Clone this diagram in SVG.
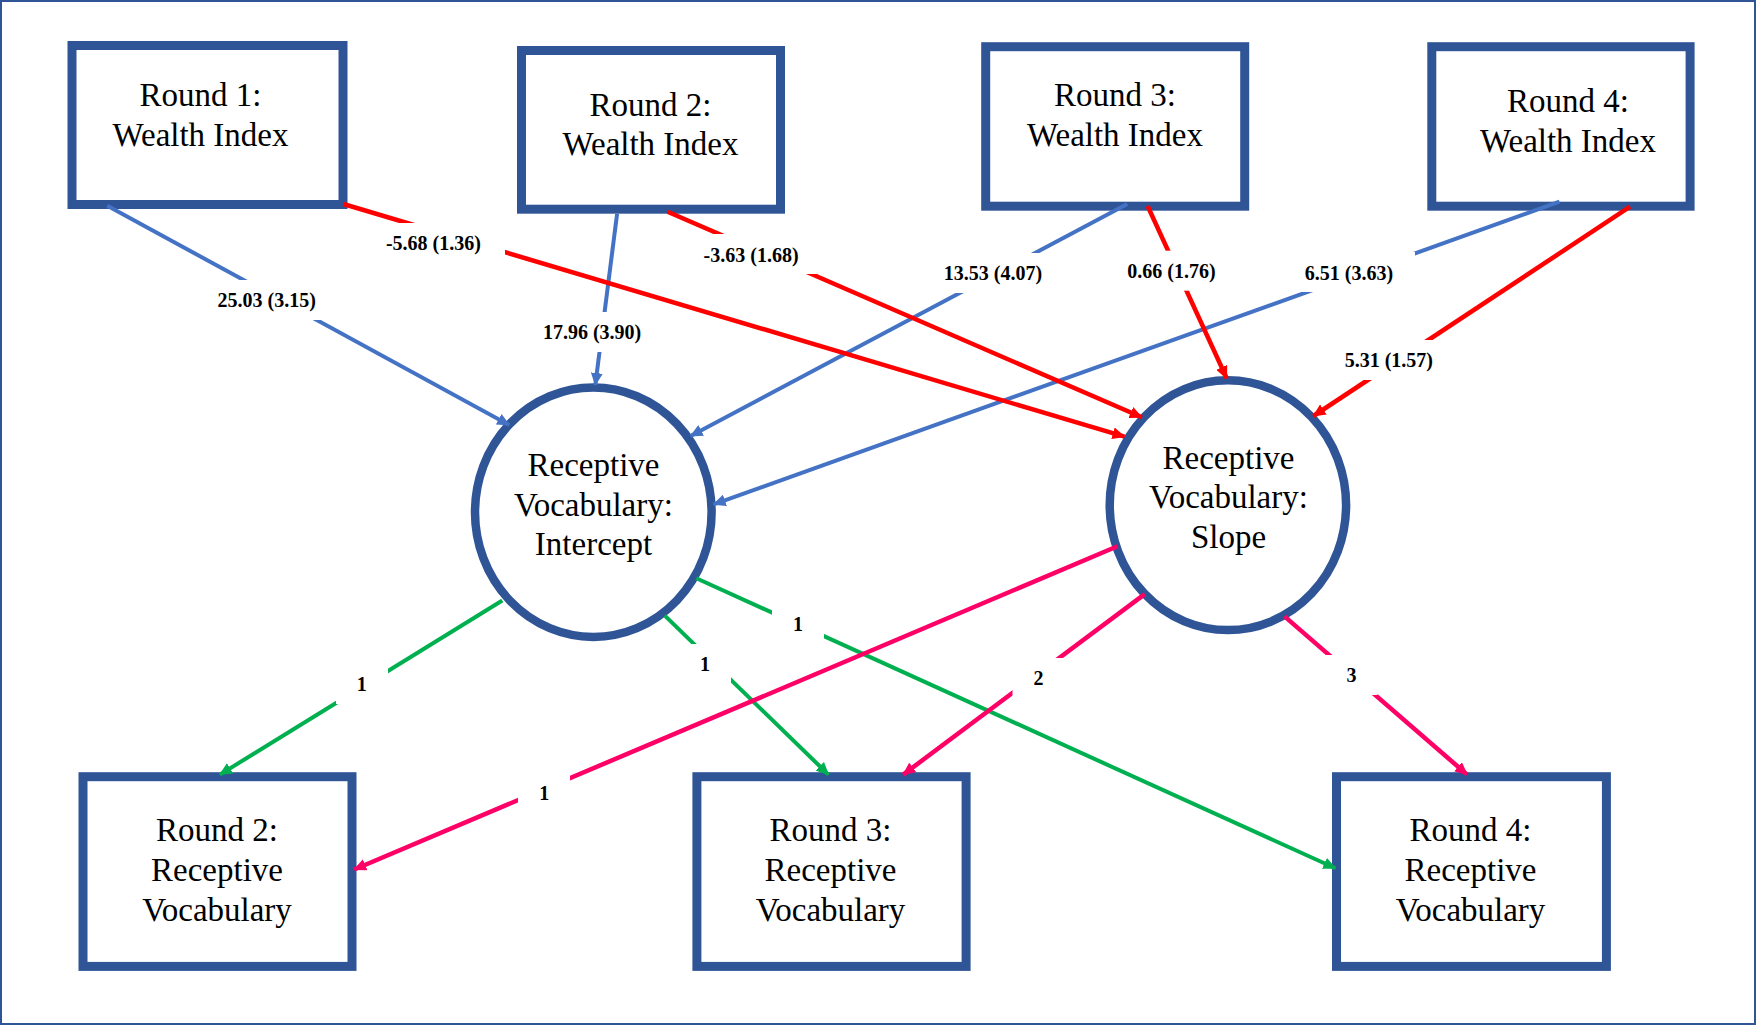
<svg xmlns="http://www.w3.org/2000/svg" width="1756" height="1025" viewBox="0 0 1756 1025">
<defs>
<style>
.box{fill:#fff;stroke:#2F5597;stroke-width:9}
.lat{fill:#fff;stroke:#2F5597;stroke-width:8.5}
.nt{font-family:"Liberation Serif","Times New Roman",serif;font-size:33px;fill:#000;text-anchor:middle}
.lb{font-family:"Liberation Serif","Times New Roman",serif;font-size:20px;font-weight:bold;fill:#000;text-anchor:middle}
.bg{fill:#fff}
.b{stroke:#4472C4;stroke-width:4;fill:none;marker-end:url(#ab)}
.r{stroke:#FF0000;stroke-width:4.5;fill:none;marker-end:url(#ar)}
.g{stroke:#00B050;stroke-width:4;fill:none;marker-end:url(#ag)}
.p{stroke:#FF0066;stroke-width:4.5;fill:none;marker-end:url(#ap)}
</style>
<marker id="ab" viewBox="0 0 13 12" refX="12" refY="6" markerWidth="13" markerHeight="12" markerUnits="userSpaceOnUse" orient="auto"><path d="M0,0 L13,6 L0,12 z" fill="#4472C4"/></marker>
<marker id="ar" viewBox="0 0 13 12" refX="12" refY="6" markerWidth="13" markerHeight="12" markerUnits="userSpaceOnUse" orient="auto"><path d="M0,0 L13,6 L0,12 z" fill="#FF0000"/></marker>
<marker id="ag" viewBox="0 0 13 12" refX="12" refY="6" markerWidth="13" markerHeight="12" markerUnits="userSpaceOnUse" orient="auto"><path d="M0,0 L13,6 L0,12 z" fill="#00B050"/></marker>
<marker id="ap" viewBox="0 0 13 12" refX="12" refY="6" markerWidth="13" markerHeight="12" markerUnits="userSpaceOnUse" orient="auto"><path d="M0,0 L13,6 L0,12 z" fill="#FF0066"/></marker>
</defs>
<rect x="0" y="0" width="1756" height="1025" fill="#fff"/>
<rect x="1" y="1" width="1754" height="1023" fill="none" stroke="#2F5597" stroke-width="2"/>

<g id="w1"><rect class="box" x="72" y="45.5" width="271" height="159"/><text class="nt" x="200.5" y="106">Round 1:</text><text class="nt" x="200.5" y="145.7">Wealth Index</text></g>
<g id="w2"><rect class="box" x="521.5" y="50.5" width="259" height="158.7"/><text class="nt" x="650.5" y="115.7">Round 2:</text><text class="nt" x="650.5" y="155.3">Wealth Index</text></g>
<g id="w3"><rect class="box" x="985.7" y="46.7" width="259" height="159.5"/><text class="nt" x="1115" y="105.7">Round 3:</text><text class="nt" x="1115" y="145.7">Wealth Index</text></g>
<g id="w4"><rect class="box" x="1431.8" y="46.7" width="258.3" height="159.5"/><text class="nt" x="1568" y="111.7">Round 4:</text><text class="nt" x="1568" y="151.7">Wealth Index</text></g>

<g id="intercept"><ellipse class="lat" cx="593.3" cy="512.2" rx="118.3" ry="124.7"/><text class="nt" x="593.5" y="475.7">Receptive</text><text class="nt" x="593.5" y="515.6">Vocabulary:</text><text class="nt" x="593.5" y="555.4">Intercept</text></g>
<g id="slope"><ellipse class="lat" cx="1227.9" cy="505.2" rx="118.2" ry="124.9"/><text class="nt" x="1228.5" y="469">Receptive</text><text class="nt" x="1228.5" y="508.4">Vocabulary:</text><text class="nt" x="1228.5" y="548.3">Slope</text></g>

<g id="rv2"><rect class="box" x="83" y="776.7" width="269" height="189.7"/><text class="nt" x="217" y="841.2">Round 2:</text><text class="nt" x="217" y="881">Receptive</text><text class="nt" x="217" y="921">Vocabulary</text></g>
<g id="rv3"><rect class="box" x="696.9" y="776.7" width="269.2" height="189.7"/><text class="nt" x="830.5" y="841.2">Round 3:</text><text class="nt" x="830.5" y="881">Receptive</text><text class="nt" x="830.5" y="921">Vocabulary</text></g>
<g id="rv4"><rect class="box" x="1336.5" y="776.7" width="269.9" height="189.7"/><text class="nt" x="1470.5" y="841.2">Round 4:</text><text class="nt" x="1470.5" y="881">Receptive</text><text class="nt" x="1470.5" y="921">Vocabulary</text></g>

<g id="connectors">
<line class="b" x1="107.3" y1="205.7" x2="509.2" y2="425"/>
<line class="b" x1="617.1" y1="213.7" x2="595.3" y2="385"/>
<line class="b" x1="1127.3" y1="204" x2="690.6" y2="436"/>
<line class="b" x1="1559.5" y1="201.7" x2="713.6" y2="504.4"/>
<line class="r" x1="343.3" y1="204" x2="1124.5" y2="436.7"/>
<line class="r" x1="667.6" y1="211.7" x2="1141.8" y2="417.3"/>
<line class="r" x1="1147.6" y1="206" x2="1226.7" y2="378.3"/>
<line class="r" x1="1630" y1="206.7" x2="1313.4" y2="416"/>
<line class="g" x1="502.3" y1="600.5" x2="219.9" y2="774.6"/>
<line class="g" x1="664.8" y1="615.6" x2="828.4" y2="774.6"/>
<line class="g" x1="696.3" y1="578.2" x2="1335.4" y2="868.3"/>
<line class="p" x1="1117.5" y1="546.3" x2="354.2" y2="869.5"/>
<line class="p" x1="1144.7" y1="594.1" x2="903.2" y2="774.6"/>
<line class="p" x1="1284.5" y1="616.4" x2="1467.1" y2="774.6"/>

<rect class="bg" x="194.5" y="280" width="144" height="40"/><text class="lb" x="266.7" y="307">25.03 (3.15)</text>
<rect class="bg" x="520" y="312" width="144" height="40"/><text class="lb" x="592.1" y="338.7">17.96 (3.90)</text>
<rect class="bg" x="921" y="253" width="144" height="40"/><text class="lb" x="993" y="280.3">13.53 (4.07)</text>
<rect class="bg" x="1283" y="252" width="132" height="40"/><text class="lb" x="1348.9" y="280.3">6.51 (3.63)</text>
<rect class="bg" x="362" y="223" width="143" height="40"/><text class="lb" x="433.4" y="250.3">-5.68 (1.36)</text>
<rect class="bg" x="680" y="234" width="143" height="40"/><text class="lb" x="751.1" y="262">-3.63 (1.68)</text>
<rect class="bg" x="1105.5" y="250.7" width="132" height="40"/><text class="lb" x="1171.5" y="277.7">0.66 (1.76)</text>
<rect class="bg" x="1323" y="340" width="132" height="40"/><text class="lb" x="1388.8" y="367">5.31 (1.57)</text>
<rect class="bg" x="336" y="664" width="52" height="40"/><text class="lb" x="361.7" y="690.8">1</text>
<rect class="bg" x="679" y="644" width="52" height="40"/><text class="lb" x="705" y="671.2">1</text>
<rect class="bg" x="772" y="604" width="52" height="40"/><text class="lb" x="797.9" y="631.4">1</text>
<rect class="bg" x="518" y="772.6" width="52" height="40"/><text class="lb" x="544.2" y="799.6">1</text>
<rect class="bg" x="1012.5" y="658" width="52" height="40"/><text class="lb" x="1038.4" y="684.8">2</text>
<rect class="bg" x="1325.5" y="655" width="52" height="40"/><text class="lb" x="1351.5" y="682">3</text>
</g>
</svg>
